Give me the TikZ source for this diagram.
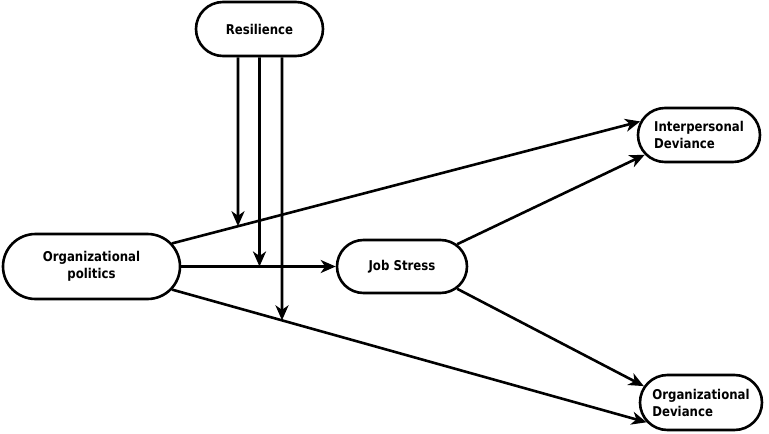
\documentclass[tikz,border=0pt]{standalone}
\usepackage{fontspec}
\setmainfont{DejaVu Sans}[FakeStretch=0.87]
\usetikzlibrary{shapes.misc,arrows.meta,intersections}
\begin{document}
\begin{tikzpicture}[x=1pt,y=-1pt,
  box/.style={rounded rectangle, draw, line width=2.6pt, inner sep=0pt,
    font=\fontsize{13.5}{17}\selectfont\bfseries, align=center},
  arr/.style={line width=2.6pt, -{Stealth[length=15pt,width=13pt,inset=4.5pt]}}]
\useasboundingbox (0,0) rectangle (769,434);
\node[box, minimum width=127pt, minimum height=54pt] (R) at (259.5,29) {Resilience};
\node[box, minimum width=177pt, minimum height=65pt] (OP) at (91.5,266.5) {Organizational\\politics};
\node[box, minimum width=130pt, minimum height=53pt] (JS) at (402,266.5) {Job Stress};
\node[box, minimum width=122pt, minimum height=54pt, align=left] (ID) at (699,135) {Interpersonal\\Deviance};
\node[box, minimum width=122pt, minimum height=55pt, align=left] (OD) at (701,402.5) {Organizational\\Deviance};

\draw[arr, name path=l1] (OP.16) -- (ID.167);
\draw[arr, name path=l2] (OP.east) -- (JS.west);
\draw[arr, name path=l3] (OP.-16) -- (OD.200);
\draw[arr] (JS.22) -- (ID.200);
\draw[arr] (JS.-22) -- (OD.164);

\coordinate (r1) at ([xshift=-21.5pt]R.south);
\coordinate (r2) at (R.south);
\coordinate (r3) at ([xshift=22.5pt]R.south);
\path[name path=v1] (r1) -- ++(0,400);
\path[name path=v2] (r2) -- ++(0,400);
\path[name path=v3] (r3) -- ++(0,400);
\path[name intersections={of=l1 and v1}] coordinate (m1) at (intersection-1);
\path[name intersections={of=l2 and v2}] coordinate (m2) at (intersection-1);
\path[name intersections={of=l3 and v3}] coordinate (m3) at (intersection-1);
\draw[arr] (r1) -- (m1);
\draw[arr] (r2) -- (m2);
\draw[arr] (r3) -- (m3);
\end{tikzpicture}
\end{document}
